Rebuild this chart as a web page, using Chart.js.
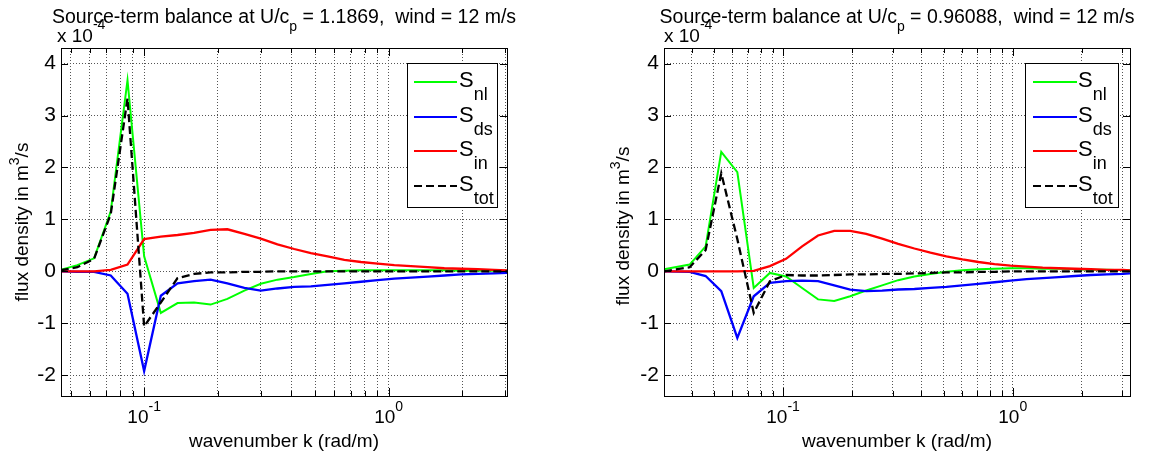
<!DOCTYPE html>
<html>
<head>
<meta charset="utf-8">
<script src="https://cdn.jsdelivr.net/npm/chart.js@4.4.0/dist/chart.umd.min.js"></script>
<style>
  html, body { margin: 0; padding: 0; background: #fff; }
  #wrap { position: relative; width: 1149px; height: 457px; overflow: hidden; }
  .panel { position: absolute; top: 0; }
  #left { left: 0; }
  #right { left: 575px; }
</style>
</head>
<body>
<div id="wrap">
  <div class="panel" id="left"><canvas id="leftChart" width="575" height="457"></canvas></div>
  <div class="panel" id="right"><canvas id="rightChart" width="574" height="457"></canvas></div>
</div>
<script>
// Source-term balance (S_nl, S_ds, S_in, S_tot) vs wavenumber, two wave ages
const FONT = "'Liberation Sans', Arial, Helvetica, sans-serif";

// left panel: U/c_p = 1.1869
const kLeft = [0.0456, 0.0533, 0.0624, 0.073, 0.0855, 0.1, 0.117, 0.137, 0.160, 0.187,
  0.219, 0.257, 0.300, 0.351, 0.411, 0.481, 0.563, 0.659, 0.771, 0.902,
  1.055, 1.234, 1.444, 1.690, 1.977, 2.313, 2.706, 3.05];
const nlLeft = [0.03, 0.12, 0.25, 1.15, 3.68, 0.29, -0.80, -0.61, -0.60, -0.64,
  -0.53, -0.37, -0.24, -0.16, -0.11, -0.05, 0.0, 0.01, 0.02, 0.02,
  0.02, 0.02, 0.02, 0.02, 0.01, 0.01, 0.01, 0.01];
const dsLeft = [0.0, -0.01, -0.01, -0.08, -0.43, -1.92, -0.47, -0.23, -0.19, -0.16,
  -0.23, -0.32, -0.37, -0.33, -0.30, -0.29, -0.26, -0.23, -0.20, -0.17,
  -0.14, -0.12, -0.10, -0.08, -0.06, -0.05, -0.04, -0.03];
const inLeft = [0.0, 0.0, 0.0, 0.03, 0.13, 0.62, 0.67, 0.70, 0.74, 0.80,
  0.81, 0.72, 0.63, 0.52, 0.43, 0.35, 0.29, 0.22, 0.18, 0.15,
  0.12, 0.10, 0.08, 0.06, 0.05, 0.04, 0.03, 0.02];
const totLeft = [0.02, 0.08, 0.24, 1.10, 3.33, -1.06, -0.60, -0.13, -0.05, -0.02,
  -0.02, -0.01, -0.01, 0.0, 0.0, 0.0, 0.0, 0.0, 0.0, 0.0,
  0.0, 0.0, 0.0, 0.0, 0.0, 0.0, 0.0, 0.0];

// right panel: U/c_p = 0.96088
const kRight = [0.0303, 0.0392, 0.046, 0.0538, 0.0632, 0.0745, 0.0876, 0.103, 0.121, 0.142,
  0.167, 0.196, 0.230, 0.270, 0.317, 0.373, 0.438, 0.514, 0.604, 0.709,
  0.833, 0.978, 1.149, 1.35, 1.585, 1.862, 2.187, 2.57, 3.02, 3.24];
const nlRight = [0.04, 0.13, 0.48, 2.30, 1.91, -0.32, -0.03, -0.10, -0.32, -0.54,
  -0.57, -0.48, -0.37, -0.27, -0.17, -0.10, -0.05, -0.01, 0.02, 0.04,
  0.05, 0.06, 0.06, 0.05, 0.05, 0.04, 0.03, 0.03, 0.02, 0.02];
const dsRight = [0.0, -0.01, -0.09, -0.38, -1.28, -0.48, -0.22, -0.19, -0.18, -0.19,
  -0.27, -0.35, -0.38, -0.37, -0.35, -0.34, -0.32, -0.30, -0.27, -0.24,
  -0.21, -0.18, -0.15, -0.13, -0.11, -0.09, -0.07, -0.06, -0.05, -0.04];
const inRight = [0.0, 0.0, 0.0, 0.0, 0.0, 0.01, 0.10, 0.24, 0.48, 0.69,
  0.78, 0.78, 0.72, 0.63, 0.53, 0.44, 0.36, 0.29, 0.23, 0.18,
  0.14, 0.11, 0.09, 0.07, 0.06, 0.05, 0.04, 0.03, 0.03, 0.02];
const totRight = [0.0, 0.08, 0.41, 1.89, 0.62, -0.80, -0.19, -0.07, -0.08, -0.08,
  -0.07, -0.06, -0.06, -0.05, -0.05, -0.04, -0.03, -0.02, -0.02, -0.01,
  -0.01, 0.0, 0.0, 0.0, 0.0, 0.0, 0.0, 0.0, 0.0, 0.0];

// axes
const yTicks = [-2, -1, 0, 1, 2, 3, 4];
const xGridLeft = [0.05, 0.06, 0.07, 0.08, 0.09, 0.1, 0.2, 0.3, 0.4, 0.5, 0.6, 0.7, 0.8, 0.9, 1, 2, 3];
const xGridRight = [0.04, 0.05, 0.06, 0.07, 0.08, 0.09, 0.1, 0.2, 0.3, 0.4, 0.5, 0.6, 0.7, 0.8, 0.9, 1, 2, 3];
const xMajor = [0.1, 1];
const xMajorExp = ['-1', '0'];
const legendSub = ['nl', 'ds', 'in', 'tot'];
const seriesColors = ['#00ff00', '#0000ff', '#ff0000', '#000000'];

function toPoints(k, vals) {
  return k.map((x, i) => ({ x: x, y: vals[i] }));
}

function richWidth(ctx, parts) {
  let w = 0;
  parts.forEach(p => { ctx.font = p.size + 'px ' + FONT; w += ctx.measureText(p.t).width; });
  return w;
}

function drawRich(ctx, parts, x, y) {
  parts.forEach(p => {
    ctx.font = p.size + 'px ' + FONT;
    ctx.fillText(p.t, x, y + (p.dy || 0));
    x += ctx.measureText(p.t).width;
  });
}

// MATLAB-like decorations: box, inward ticks, labels, title, legend
function decor(cfg) {
  return {
    id: 'decor',
    afterDraw(chart) {
      const { ctx, chartArea: a, scales: { x, y } } = chart;
      ctx.save();
      ctx.strokeStyle = '#000';
      ctx.fillStyle = '#000';
      ctx.lineWidth = 1;

      // tick marks
      ctx.beginPath();
      cfg.grid.forEach(v => {
        const px = Math.round(x.getPixelForValue(v)) + 0.5;
        const len = xMajor.includes(v) ? 8 : 5;
        ctx.moveTo(px, a.bottom); ctx.lineTo(px, a.bottom - len);
        ctx.moveTo(px, a.top); ctx.lineTo(px, a.top + len);
      });
      yTicks.forEach(v => {
        const py = Math.round(y.getPixelForValue(v)) + 0.5;
        ctx.moveTo(a.left, py); ctx.lineTo(a.left + 7, py);
        ctx.moveTo(a.right, py); ctx.lineTo(a.right - 7, py);
      });
      ctx.stroke();

      // legend box
      const L = cfg.legend;
      ctx.fillStyle = '#fff';
      ctx.fillRect(L.x, L.y, L.w, L.h);
      ctx.strokeRect(L.x + 0.5, L.y + 0.5, L.w, L.h);
      ctx.fillStyle = '#000';
      ctx.textBaseline = 'alphabetic';
      ctx.textAlign = 'left';
      legendSub.forEach((sub, i) => {
        const ly = L.y + L.rows[i];
        ctx.beginPath();
        ctx.strokeStyle = seriesColors[i];
        ctx.lineWidth = 2;
        ctx.setLineDash(i === 3 ? [8, 4] : []);
        ctx.moveTo(L.x + L.l0, ly); ctx.lineTo(L.x + L.l1, ly);
        ctx.stroke();
        ctx.setLineDash([]);
        drawRich(ctx, [{ t: 'S', size: 22 }, { t: sub, size: 18, dy: 13 }], L.x + L.tx, ly + 5);
      });

      // box
      ctx.strokeStyle = '#000';
      ctx.lineWidth = 1;
      ctx.strokeRect(a.left + 0.5, a.top + 0.5, a.right - a.left, a.bottom - a.top);

      // x tick labels 10^n
      xMajor.forEach((v, i) => {
        const parts = [{ t: '10', size: 19 }, { t: xMajorExp[i], size: 14, dy: -12 }];
        const w = richWidth(ctx, parts);
        drawRich(ctx, parts, x.getPixelForValue(v) - w / 2, 423);
      });

      // x axis title
      ctx.font = '19px ' + FONT;
      ctx.textAlign = 'center';
      ctx.fillText('wavenumber k (rad/m)', (a.left + a.right) / 2, 447);
      ctx.textAlign = 'left';

      // y axis title
      ctx.save();
      ctx.translate(cfg.ylabX, cfg.ylabY);
      ctx.rotate(-Math.PI / 2);
      const yParts = [{ t: 'flux density in m', size: 19 }, { t: '3', size: 14, dy: -9 }, { t: '/s', size: 19 }];
      drawRich(ctx, yParts, -richWidth(ctx, yParts) / 2, 0);
      ctx.restore();

      // title
      const tParts = [{ t: 'Source-term balance at U/c', size: 19.5 }, { t: 'p', size: 14, dy: 8 },
        { t: ' = ' + cfg.ratio + ',  wind = 12 m/s', size: 19.5 }];
      drawRich(ctx, tParts, (a.left + a.right) / 2 - richWidth(ctx, tParts) / 2, 22.5);

      // exponent label
      drawRich(ctx, [{ t: 'x 10', size: 19 }, { t: '-4', size: 14, dy: -13 }], a.left + cfg.expDx, 41.5);
      ctx.restore();
    }
  };
}

function buildPanel(canvasId, cfg) {
  const ctx = document.getElementById(canvasId).getContext('2d');
  const sets = [cfg.nl, cfg.ds, cfg.sin, cfg.tot];
  return new Chart(ctx, {
    type: 'scatter',
    data: {
      datasets: sets.map((vals, i) => ({
        label: 'S' + legendSub[i],
        data: toPoints(cfg.k, vals),
        showLine: true,
        borderColor: seriesColors[i],
        backgroundColor: seriesColors[i],
        borderWidth: i === 0 ? 2 : 2.3,
        borderDash: i === 3 ? [8, 4] : [],
        pointRadius: 0,
        tension: 0,
        order: 3 - i
      }))
    },
    options: {
      responsive: false,
      animation: false,
      layout: { padding: { left: 0, top: 48, right: cfg.padRight, bottom: 0 } },
      plugins: { legend: { display: false }, tooltip: { enabled: false } },
      scales: {
        x: {
          type: 'logarithmic',
          min: cfg.xmin,
          max: cfg.xmax,
          afterBuildTicks: s => { s.ticks = cfg.grid.map(v => ({ value: v })); },
          afterFit: s => { s.height = 61; },
          ticks: { display: false },
          grid: { color: '#555', lineWidth: 1, drawTicks: false },
          border: { display: false, dash: [1, 2] }
        },
        y: {
          min: -2.4,
          max: 4.3,
          afterBuildTicks: s => { s.ticks = yTicks.map(v => ({ value: v })); },
          afterFit: s => { s.width = cfg.left; },
          ticks: { color: '#000', font: { family: FONT, size: 21 }, padding: 5 },
          grid: { color: '#555', lineWidth: 1, drawTicks: false },
          border: { display: false, dash: [1, 2] }
        }
      }
    },
    plugins: [decor(cfg)]
  });
}

buildPanel('leftChart', {
  k: kLeft, nl: nlLeft, ds: dsLeft, sin: inLeft, tot: totLeft,
  xmin: 0.0457, xmax: 3.05, grid: xGridLeft,
  left: 61, padRight: 68, ratio: '1.1869', expDx: -4,
  ylabX: 28, ylabY: 222,
  legend: { x: 407, y: 63, w: 90, h: 144, rows: [19, 54, 88, 123], l0: 7, l1: 50, tx: 52 }
});

buildPanel('rightChart', {
  k: kRight, nl: nlRight, ds: dsRight, sin: inRight, tot: totRight,
  xmin: 0.0303, xmax: 3.24, grid: xGridRight,
  left: 89, padRight: 19, ratio: '0.96088', expDx: 0,
  ylabX: 54, ylabY: 226,
  legend: { x: 450, y: 63, w: 93, h: 144, rows: [19, 54, 88, 123], l0: 8, l1: 52, tx: 53 }
});
</script>
</body>
</html>
